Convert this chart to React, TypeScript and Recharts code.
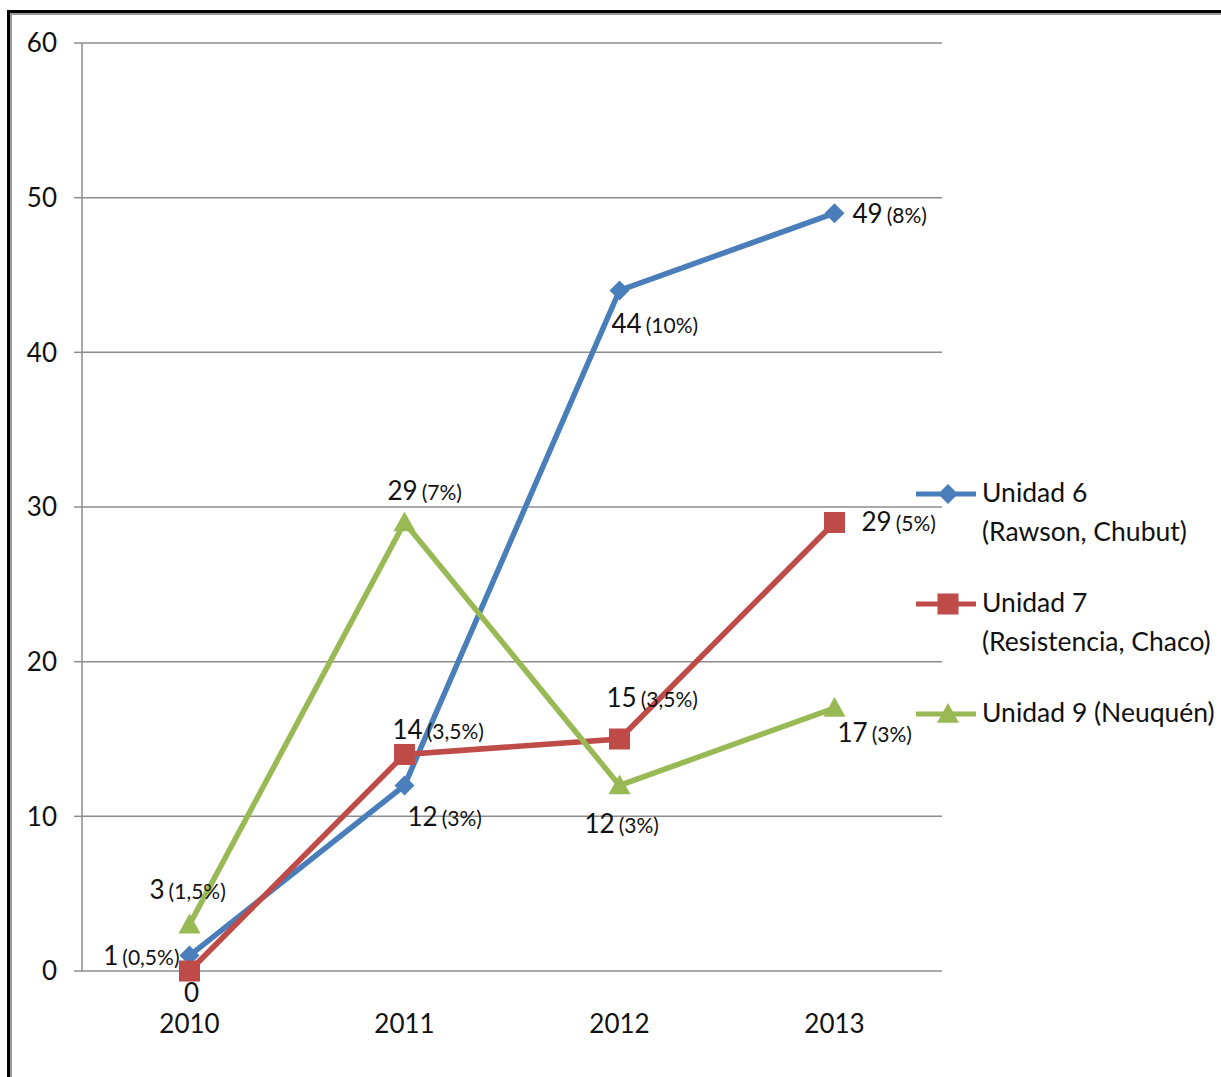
import React from 'react';
import { LineChart, Line, XAxis, YAxis, CartesianGrid, LabelList } from 'recharts';

const YEARS = ['2010', '2011', '2012', '2013'];
const UNIDAD_6 = [1, 12, 44, 49];
const UNIDAD_7 = [0, 14, 15, 29];
const UNIDAD_9 = [3, 29, 12, 17];
const PCT_6 = ['(0,5%)', '(3%)', '(10%)', '(8%)'];
const PCT_7 = ['', '(3,5%)', '(3,5%)', '(5%)'];
const PCT_9 = ['(1,5%)', '(7%)', '(3%)', '(3%)'];
const Y_TICKS = [0, 10, 20, 30, 40, 50, 60];
const LEGEND_LINES = [
  ['Unidad 6', '(Rawson, Chubut)'],
  ['Unidad 7', '(Resistencia, Chaco)'],
  ['Unidad 9 (Neuquén)'],
];

const data = YEARS.map((year, i) => ({
  year,
  u6: UNIDAD_6[i],
  u7: UNIDAD_7[i],
  u9: UNIDAD_9[i],
}));

const FONT = 'Lato, "Open Sans", sans-serif';
const BLUE = '#4a7ebb';
const RED = '#be4b48';
const GREEN = '#98b954';
const GRID = '#8c8c8c';

// label placement per point: [anchor, dx, dy]
type Place = ['start' | 'middle' | 'end', number, number];
const PLACE_6: Place[] = [['end', -10, 9], ['start', 3, 41], ['start', -8, 43], ['start', 18, 10]];
const PLACE_7: Place[] = [['middle', 2, 31], ['start', -12, -15], ['start', -13, -32], ['start', 27, 9]];
const PLACE_9: Place[] = [['start', -40, -26], ['start', -17, -22], ['start', -35, 48], ['start', 3, 34]];

const makeLabel = (pcts: string[], places: Place[]) => (props: any) => {
  const { x, y, index, value } = props;
  const [anchor, dx, dy] = places[index];
  const pct = pcts[index];
  return (
    <text x={x + dx} y={y + dy} textAnchor={anchor} fontFamily={FONT} fill="#111">
      <tspan fontSize={26}>{value}</tspan>
      {pct ? <tspan fontSize={21} dx={4}>{pct}</tspan> : null}
    </text>
  );
};

const Diamond = ({ cx, cy, color, r = 10 }: any) => (
  <polygon points={`${cx},${cy - r} ${cx + r},${cy} ${cx},${cy + r} ${cx - r},${cy}`} fill={color} />
);
const Square = ({ cx, cy, color, r = 10.5 }: any) => (
  <rect x={cx - r} y={cy - r} width={2 * r} height={2 * r} fill={color} />
);
const Triangle = ({ cx, cy, color, r = 11 }: any) => (
  <polygon points={`${cx},${cy - r} ${cx + r},${cy + r * 0.8} ${cx - r},${cy + r * 0.8}`} fill={color} />
);

const MARKERS = [Diamond, Square, Triangle];
const COLORS = [BLUE, RED, GREEN];

const LegendBox = () => (
  <div style={{ position: 'absolute', left: 916, top: 474, fontFamily: FONT, fontSize: 26.5, color: '#111' }}>
    {LEGEND_LINES.map((lines, i) => {
      const M = MARKERS[i];
      return (
        <div key={i} style={{ position: 'relative', height: 110 }}>
          <svg width={62} height={40} style={{ position: 'absolute', left: 0, top: 0 }}>
            <line x1={0} y1={20} x2={60} y2={20} stroke={COLORS[i]} strokeWidth={5} />
            <M cx={32} cy={20} color={COLORS[i]} />
          </svg>
          <div style={{ position: 'absolute', left: 66, top: -1, lineHeight: '39px', whiteSpace: 'nowrap' }}>
            {lines.map((l, j) => (
              <div key={j}>{l}</div>
            ))}
          </div>
        </div>
      );
    })}
  </div>
);

const dotFor = (i: number) => (props: any) => {
  const M = MARKERS[i];
  return <M key={`${i}-${props.index}`} cx={props.cx} cy={props.cy} color={COLORS[i]} />;
};

export default function App() {
  return (
    <div style={{ position: 'absolute', left: 0, top: 0, width: 1221, height: 1077, background: '#fff', overflow: 'hidden' }}>
      <div style={{ position: 'absolute', left: 7, top: 10, right: 0, bottom: 0, borderTop: '3px solid #000', borderLeft: '3px solid #000' }}>
        <div style={{ width: '100%', height: '100%', borderTop: '2px solid #9a9a9a', borderLeft: '2px solid #9a9a9a' }} />
      </div>
      <div style={{ position: 'absolute', left: 0, top: 0 }}>
        <LineChart width={1221} height={1077} data={data} margin={{ top: 43, right: 279, bottom: 46, left: 0 }}>
          <CartesianGrid vertical={false} stroke={GRID} strokeWidth={1.5} xAxisId="cat" />
          <XAxis
            xAxisId="grid"
            type="number"
            domain={[0, 4]}
            ticks={[0, 1, 2, 3, 4]}
            tick={false}
            tickSize={11}
            height={0}
            stroke={GRID}
            strokeWidth={1.5}
          />
          <XAxis
            xAxisId="cat"
            dataKey="year"
            padding={{ left: 107.5, right: 107.5 }}
            axisLine={false}
            tickLine={false}
            tickSize={0}
            tickMargin={44}
            height={60}
            tick={{ fontSize: 26, fill: '#111', fontFamily: FONT }}
          />
          <YAxis
            domain={[0, 60]}
            ticks={Y_TICKS}
            width={82}
            tickSize={8}
            tickMargin={17}
            stroke={GRID}
            strokeWidth={1.5}
            tick={{ fontSize: 26, fill: '#111', fontFamily: FONT }}
          />
          <Line xAxisId="cat" dataKey="u6" stroke={BLUE} strokeWidth={5.5} dot={dotFor(0)} isAnimationActive={false}>
            <LabelList dataKey="u6" content={makeLabel(PCT_6, PLACE_6)} />
          </Line>
          <Line xAxisId="cat" dataKey="u7" stroke={RED} strokeWidth={5.5} dot={dotFor(1)} isAnimationActive={false}>
            <LabelList dataKey="u7" content={makeLabel(PCT_7, PLACE_7)} />
          </Line>
          <Line xAxisId="cat" dataKey="u9" stroke={GREEN} strokeWidth={5.5} dot={dotFor(2)} isAnimationActive={false}>
            <LabelList dataKey="u9" content={makeLabel(PCT_9, PLACE_9)} />
          </Line>
        </LineChart>
      </div>
      <LegendBox />
    </div>
  );
}
